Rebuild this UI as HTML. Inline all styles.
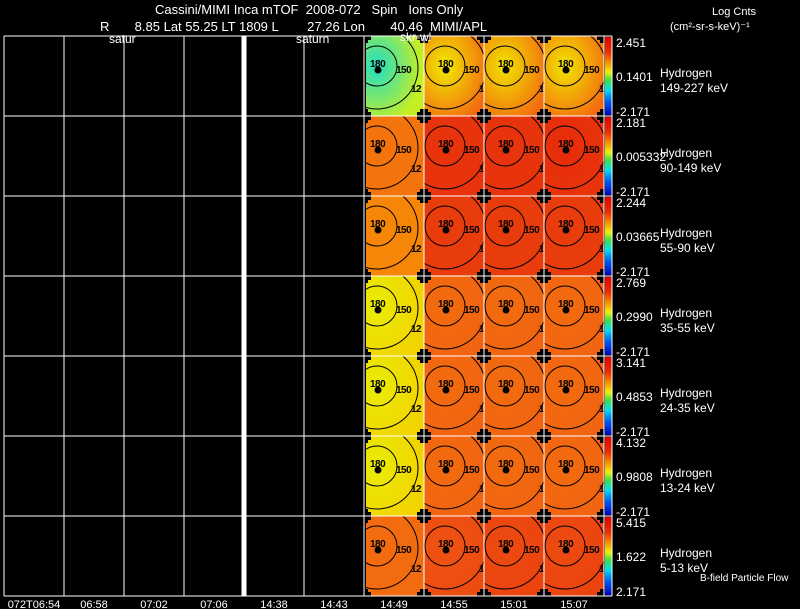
<!DOCTYPE html>
<html><head><meta charset="utf-8"><style>
html,body{margin:0;padding:0;background:#000;}
svg{display:block;font-family:"Liberation Sans",sans-serif;}
text{white-space:pre;}
</style></head><body>
<svg id="c" width="800" height="609" viewBox="0 0 800 609" xmlns="http://www.w3.org/2000/svg">
<defs>
<linearGradient id="cb" x1="0" y1="0" x2="0" y2="1">
<stop offset="0" stop-color="#e00000"/><stop offset="0.2" stop-color="#f03000"/><stop offset="0.35" stop-color="#f8a000"/>
<stop offset="0.45" stop-color="#f0f000"/><stop offset="0.55" stop-color="#40e040"/><stop offset="0.68" stop-color="#00e0f0"/>
<stop offset="0.82" stop-color="#0060f0"/><stop offset="1" stop-color="#0000c0"/></linearGradient>
</defs>
<g id="panels"></g>
<g id="grid"></g>
<g id="labels"></g>
</svg>
<script>
const timeLabels=["072T06:54","06:58","07:02","07:06","14:38","14:43","14:49","14:55","15:01","15:07"];
const energies=["149-227 keV","90-149 keV","55-90 keV","35-55 keV","24-35 keV","13-24 keV","5-13 keV"];
const cbTop=["2.451","2.181","2.244","2.769","3.141","4.132","5.415"];
const cbMid=["0.1401","0.005332","0.03665","0.2990","0.4853","0.9808","1.622"];
const cbBot=["-2.171","-2.171","-2.171","-2.171","-2.171","-2.171","2.171"];
// normalized intensity (0..1) at centre and edge of each image, rows x 4 columns
const centerVals=[[0.36,0.70,0.71,0.71],[0.85,0.93,0.93,0.94],[0.83,0.92,0.92,0.92],[0.69,0.86,0.86,0.86],[0.69,0.86,0.86,0.86],[0.69,0.86,0.86,0.86],[0.86,0.89,0.90,0.90]];
const edgeVals=[[0.64,0.86,0.86,0.86],[0.85,0.93,0.93,0.93],[0.83,0.92,0.92,0.92],[0.73,0.87,0.87,0.87],[0.73,0.87,0.87,0.87],[0.73,0.87,0.87,0.87],[0.86,0.90,0.91,0.91]];

const NS="http://www.w3.org/2000/svg";
const X0=4,CW=60,Y0=36,RH=80;
const xAt=i=>X0+i*CW, yAt=r=>Y0+r*RH;
function mk(t,a,p){const e=document.createElementNS(NS,t);for(const k in a)e.setAttribute(k,a[k]);(p||document.getElementById('c')).appendChild(e);return e;}
const stops=[[0,[0,0,200]],[0.25,[0,220,240]],[0.45,[60,224,160]],[0.6,[170,240,60]],[0.7,[240,235,0]],[0.8,[248,160,0]],[0.88,[240,90,20]],[1,[220,0,0]]];
function cmap(v){for(let i=1;i<stops.length;i++){if(v<=stops[i][0]){const[a,ca]=stops[i-1],[b,cb]=stops[i];const t=(v-a)/(b-a);return 'rgb('+ca.map((c,j)=>Math.round(c+(cb[j]-c)*t)).join(',')+')';}}return 'rgb(220,0,0)';}

const P=document.getElementById('panels');
const defs=document.querySelector('defs');
for(let r=0;r<7;r++){
  for(let c=0;c<4;c++){
    const x=xAt(6+c),y=yAt(r);
    const off=c===0?13:21;
    const gid='g'+r+'_'+c;
    const g=mk('radialGradient',{id:gid,cx:off/60,cy:0.38,r:0.75},defs);
    mk('stop',{offset:'0',"stop-color":cmap(centerVals[r][c])},g);
    mk('stop',{offset:'1',"stop-color":cmap(edgeVals[r][c])},g);
    const cp=mk('clipPath',{id:'cp'+gid},defs);
    mk('rect',{x:x,y:y,width:60,height:80},cp);
    const grp=mk('g',{"clip-path":'url(#cp'+gid+')'},P);
    const img=mk('rect',{x:x,y:y,width:60,height:80,fill:'url(#'+gid+')'},grp);
    
    
    if(c===0){mk('rect',{x:x,y:y,width:2,height:80,fill:'#000'},grp);}
    const cx=x+off,cy=y+30;
    mk('circle',{cx:cx,cy:cy,r:20,fill:'none',stroke:'#000','stroke-width':1},grp);
    mk('circle',{cx:cx,cy:cy+2,r:41,fill:'none',stroke:'#000','stroke-width':1},grp);
    mk('circle',{cx:cx+1,cy:cy+4,r:3.5,fill:'#000'},grp);
    const st={fill:'#000','font-size':10,'font-weight':'bold','letter-spacing':'-0.5'};
    const t1=mk('text',Object.assign({x:cx-7,y:cy+1},st),grp);t1.textContent='180';
    const t2=mk('text',Object.assign({x:cx+19,y:cy+7},st),grp);t2.textContent='150';
    const t3=mk('text',Object.assign({x:cx+34,y:cy+26},st),grp);t3.textContent='12';
  }
}
for(let r=0;r<=7;r++)for(let c=6;c<=10;c++){
  const x=xAt(c),y=yAt(r);
  mk('rect',{x:x-7,y:y-4,width:14,height:8,fill:'#000'},P);
  mk('rect',{x:x-4,y:y-7,width:8,height:14,fill:'#000'},P);
}
const G=document.getElementById('grid');
for(let r=0;r<7;r++){
  const cbr=mk('rect',{x:605,y:yAt(r)+1,width:7,height:78,fill:'url(#cb)'},G);
  
  
}
for(let r=0;r<=7;r++)mk('line',{x1:4,x2:612,y1:yAt(r),y2:yAt(r),stroke:'#fff','stroke-width':1},G);
for(let c=0;c<=10;c++)mk('line',{x1:xAt(c),x2:xAt(c),y1:36,y2:596,stroke:'#fff','stroke-width':c===4?5:1},G);
mk('line',{x1:612,x2:612,y1:36,y2:596,stroke:'#fff','stroke-width':1},G);

const L=document.getElementById('labels');
function txt(x,y,s,name,o){const t=mk('text',Object.assign({x:x,y:y,fill:'#fff','font-size':12},o||{}),L);t.textContent=s;return t;}
timeLabels.forEach((s,i)=>{txt(xAt(i)+30,608,s,'x-tick-label',{'text-anchor':'middle','font-size':11});});
for(let r=0;r<7;r++){
  const y=yAt(r);
  txt(616,y+11,cbTop[r],'colorbar-max');
  txt(616,y+45,cbMid[r],'colorbar-mid');
  txt(616,y+80,cbBot[r],'colorbar-min');
  txt(660,y+41,'Hydrogen','species-label');
  txt(660,y+56,energies[r],'energy-label');
}
txt(700,581,'B-field Particle Flow','flow-legend',{'font-size':10});
txt(155,14,'Cassini/MIMI Inca mTOF  2008-072   Spin   Ions Only','chart-title',{'font-size':13});
txt(100,31,'R       8.85 Lat 55.25 LT 1809 L        27.26 Lon       40.46  MIMI/APL','position-info',{'font-size':13});
txt(109,43,'satur','saturn-label-1');
txt(296,43,'saturn','saturn-label-2');
txt(400,41,'skr-wl','skr-label');
txt(712,15,'Log Cnts','units-title',{'font-size':11});
txt(670,30,'(cm\u00b2-sr-s-keV)\u207b\u00b9','units-label',{'font-size':11});
</script>
</body></html>
